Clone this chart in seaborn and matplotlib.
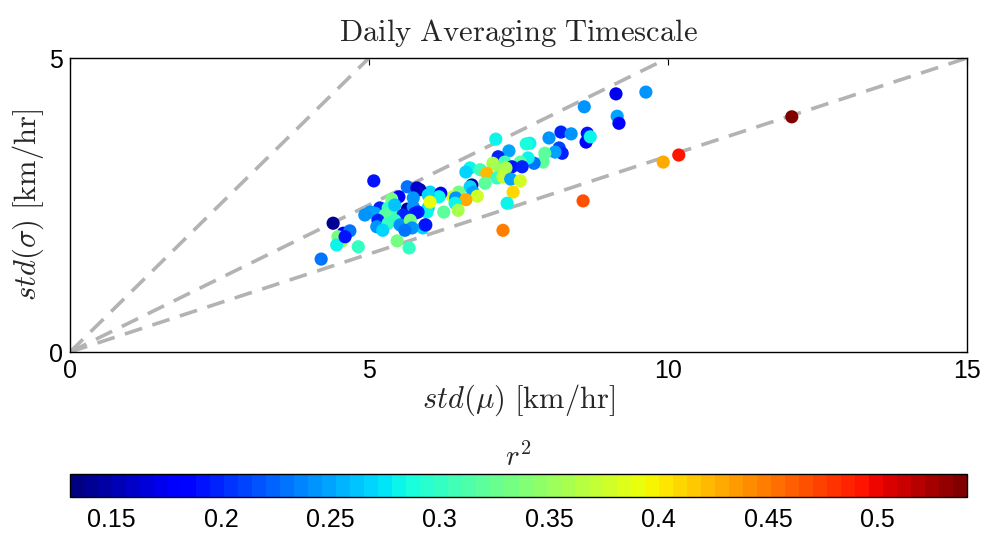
import numpy as np
import pandas as pd
import matplotlib
matplotlib.use("Agg")
import matplotlib.pyplot as plt
import seaborn as sns
from matplotlib.cm import ScalarMappable
from matplotlib.colors import Normalize

std_mu = [12.07, 10.18, 9.92, 8.58, 7.24, 9.13, 9.63, 8.60, 9.15, 9.18,
          8.21, 8.38, 8.01, 8.65, 8.63, 8.70, 8.18, 8.23, 8.11, 7.94,
          7.91, 7.76, 7.69, 7.12, 7.63, 7.34, 7.16, 7.66, 7.53, 7.27,
          7.07, 7.39, 7.56, 6.69, 6.62, 6.86, 6.97, 7.19, 7.29, 7.14,
          7.24, 7.37, 7.53, 6.94, 7.41, 7.31, 6.72, 6.69, 6.74, 6.81,
          6.50, 6.40, 6.45, 6.62, 6.44, 6.49, 6.25, 6.02, 6.20, 6.17,
          5.85, 5.99, 5.97, 5.95, 5.90, 5.08, 5.64, 5.80, 5.50, 5.38,
          5.74, 5.99, 5.18, 5.02, 5.10, 5.32, 5.64, 5.74, 5.82, 5.27,
          5.47, 5.77, 5.57, 5.15, 5.13, 5.32, 5.43, 5.52, 5.69, 5.72,
          5.94, 4.40, 4.57, 4.68, 4.48, 4.55, 4.46, 4.60, 4.82, 5.47,
          5.67, 4.20, 6.02, 5.43, 5.60, 4.93, 5.23]
std_sigma = [4.00, 3.35, 3.23, 2.57, 2.07, 4.39, 4.42, 4.17, 4.01, 3.89,
             3.74, 3.71, 3.64, 3.72, 3.57, 3.66, 3.47, 3.38, 3.40, 3.38,
             3.23, 3.21, 3.55, 3.62, 3.54, 3.42, 3.32, 3.30, 3.23, 3.23,
             3.21, 3.15, 3.15, 3.13, 3.06, 3.10, 3.04, 3.10, 3.13, 2.96,
             2.98, 2.94, 2.91, 2.87, 2.72, 2.53, 2.84, 2.81, 2.72, 2.65,
             2.72, 2.64, 2.62, 2.59, 2.53, 2.41, 2.38, 2.72, 2.70, 2.64,
             2.76, 2.45, 2.38, 2.16, 2.11, 2.91, 2.81, 2.79, 2.64, 2.60,
             2.62, 2.67, 2.45, 2.38, 2.36, 2.45, 2.43, 2.47, 2.38, 2.33,
             2.31, 2.36, 2.33, 2.24, 2.13, 2.19, 2.24, 2.16, 2.24, 2.11,
             2.16, 2.19, 2.02, 2.06, 1.96, 1.89, 1.82, 1.96, 1.79, 1.89,
             1.77, 1.58, 2.55, 2.50, 2.07, 2.33, 2.07]
r2 = [0.54, 0.49, 0.43, 0.47, 0.45, 0.17, 0.24, 0.24, 0.25, 0.18,
      0.20, 0.24, 0.24, 0.19, 0.18, 0.28, 0.21, 0.20, 0.25, 0.32,
      0.32, 0.23, 0.28, 0.28, 0.29, 0.25, 0.20, 0.28, 0.32, 0.31,
      0.36, 0.19, 0.20, 0.28, 0.27, 0.31, 0.42, 0.35, 0.36, 0.30,
      0.37, 0.25, 0.38, 0.32, 0.41, 0.28, 0.15, 0.27, 0.25, 0.38,
      0.33, 0.38, 0.24, 0.43, 0.28, 0.36, 0.32, 0.27, 0.18, 0.28,
      0.15, 0.27, 0.28, 0.19, 0.27, 0.19, 0.23, 0.16, 0.18, 0.33,
      0.24, 0.27, 0.20, 0.24, 0.25, 0.30, 0.15, 0.24, 0.20, 0.32,
      0.31, 0.19, 0.20, 0.20, 0.24, 0.30, 0.30, 0.24, 0.33, 0.24,
      0.19, 0.14, 0.18, 0.23, 0.33, 0.36, 0.28, 0.19, 0.30, 0.33,
      0.30, 0.23, 0.39, 0.26, 0.23, 0.24, 0.27]

ref_slopes = [1.0, 0.5, 1.0 / 3.0]
x_ticks = [0, 5, 10, 15]
y_ticks = [0, 5]
cbar_ticks = [0.15, 0.2, 0.25, 0.3, 0.35, 0.4, 0.45, 0.5]
cbar_labels = ["0.15", "0.2", "0.25", "0.3", "0.35", "0.4", "0.45", "0.5"]
r2_min, r2_max = 0.131, 0.541

df = pd.DataFrame({"std_mu": std_mu, "std_sigma": std_sigma, "r2": r2})

sns.set_style("white")
plt.rcParams["font.family"] = ["Liberation Sans", "DejaVu Sans"]
plt.rcParams["mathtext.fontset"] = "cm"

fig = plt.figure(figsize=(9.87, 5.36), dpi=100)
ax = fig.add_axes([70 / 987, 1 - 352 / 536, 897 / 987, 294 / 536])
cax = fig.add_axes([70 / 987, 1 - 497 / 536, 897 / 987, 23 / 536])

cmap = plt.get_cmap("jet", 64)
norm = Normalize(vmin=r2_min, vmax=r2_max)

xs = np.array([0.0, 15.0])
for s in ref_slopes:
    ax.plot(xs, s * xs, color="#b3b3b3", lw=2.6, dashes=(5, 3.0), zorder=1)

sns.scatterplot(data=df, x="std_mu", y="std_sigma", hue="r2", palette=cmap,
                hue_norm=norm, legend=False, s=90, linewidth=0, ax=ax, zorder=3)

ax.set_xlim(0, 15)
ax.set_ylim(0, 5)
ax.set_xticks(x_ticks)
ax.set_yticks(y_ticks)
ax.tick_params(direction="in", length=5, width=0.8, top=True, right=True,
               labelsize=18, pad=5, colors="black")
for sp in ax.spines.values():
    sp.set_color("black")
    sp.set_linewidth(1.0)
ax.set_xlabel(r"$std(\mu)\ \mathrm{[km/hr]}$", fontsize=22, labelpad=0)
ax.set_ylabel(r"$std(\sigma)\ \mathrm{[km/hr]}$", fontsize=22, labelpad=2)
ax.set_title(r"$\mathrm{Daily\ Averaging\ Timescale}$", fontsize=22, pad=12)

sm = ScalarMappable(norm=norm, cmap=cmap)
cb = fig.colorbar(sm, cax=cax, orientation="horizontal")
cb.set_ticks(cbar_ticks)
cb.set_ticklabels(cbar_labels)
cax.tick_params(direction="in", length=5, width=0.8, top=True, bottom=True,
                labelsize=18, pad=8, colors="black")
cb.outline.set_edgecolor("black")
cb.outline.set_linewidth(1.0)
cax.set_title(r"$r^2$", fontsize=21, pad=6)

fig.savefig("out.png", dpi=100)
